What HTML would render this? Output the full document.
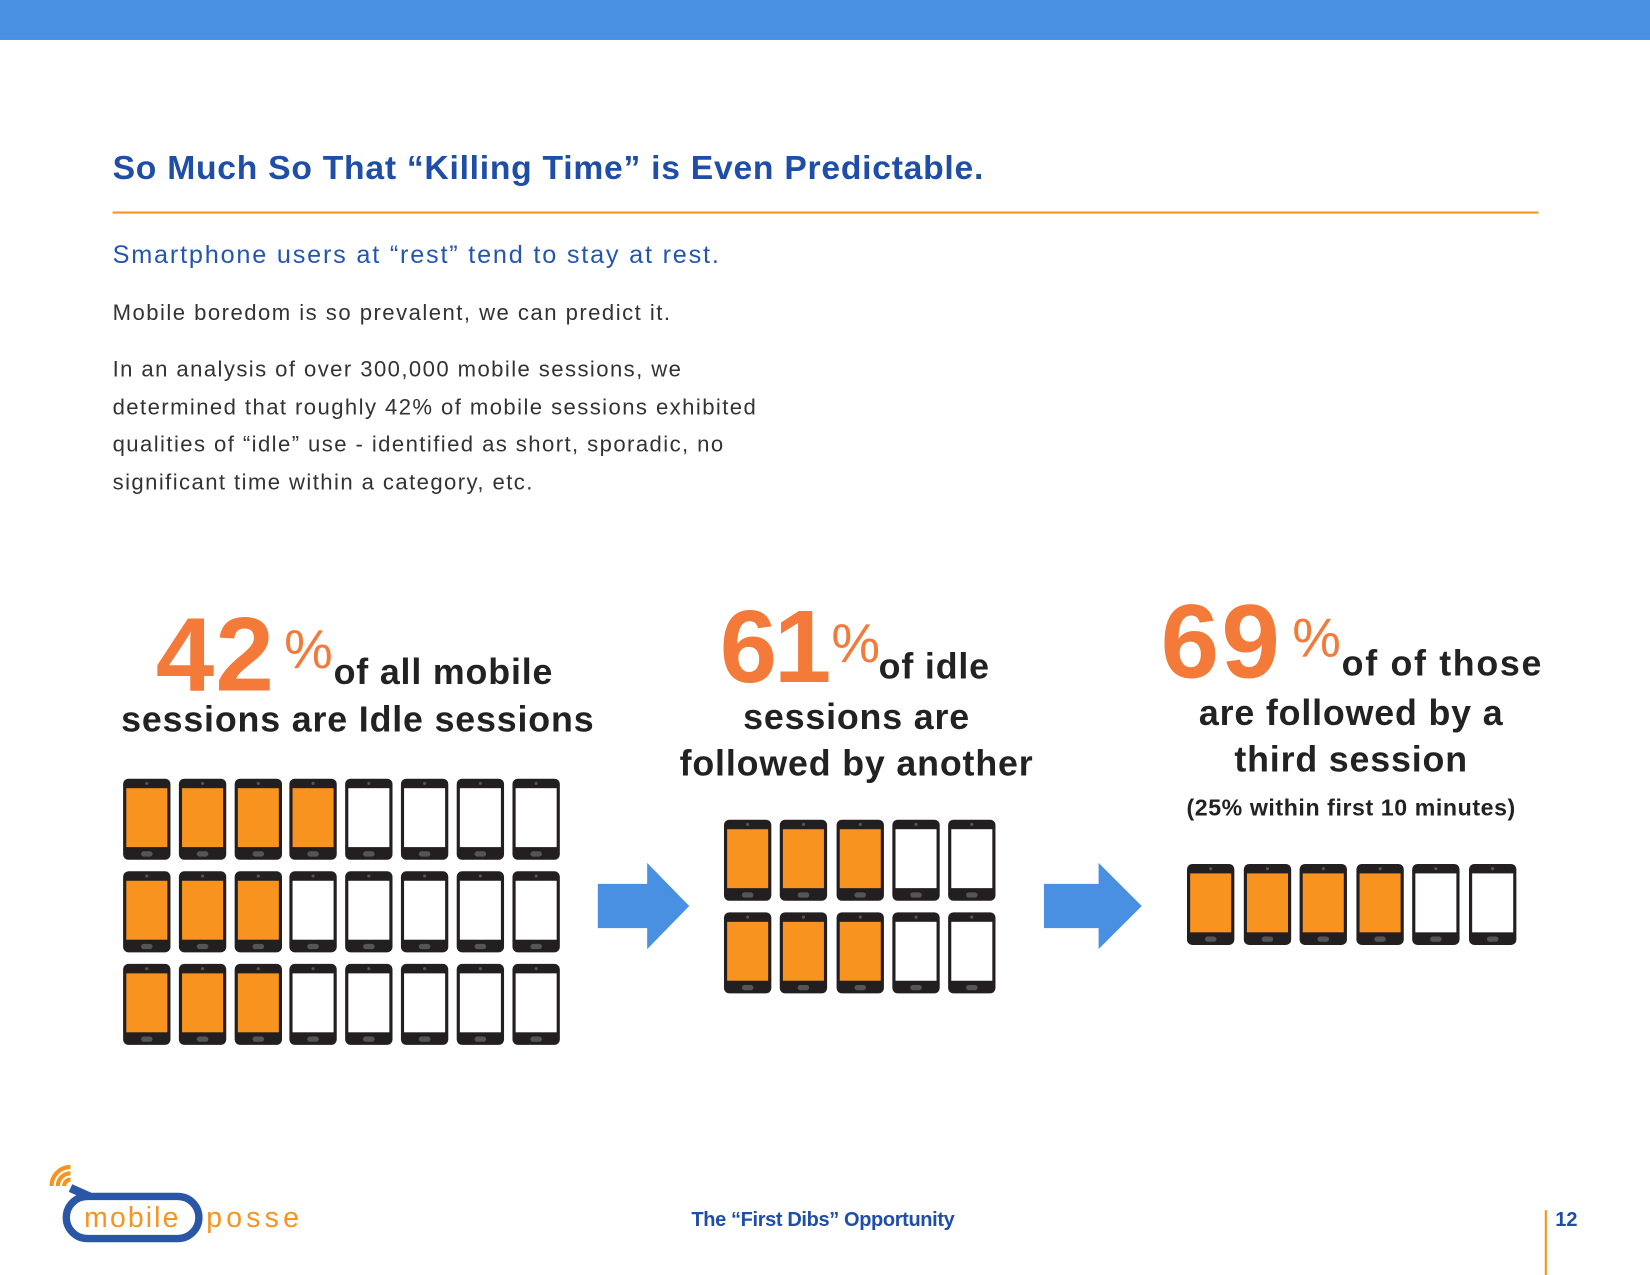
<!DOCTYPE html>
<html><head><meta charset="utf-8"><style>
html,body{margin:0;padding:0;background:#fff;overflow:hidden}
body{width:1650px;height:1275px;position:relative}
#s{position:absolute;left:0;top:0;width:1568px;height:1212px;transform:scale(1.05230);transform-origin:0 0;font-family:"Liberation Sans",sans-serif}
.a{position:absolute;white-space:nowrap}
.big{color:#F47A3A;font-weight:bold}
.pc{font-weight:normal;color:#F47A3A}
.h{font-weight:bold;color:#222;font-size:34px;letter-spacing:0.8px}
.ph{position:absolute;width:45px;height:77px;background:#231F20;border-radius:5px}
.ph .sc{position:absolute;left:3px;right:3px;top:9px;bottom:12px;background:#fff}
.ph .sc.on{background:#F7931E}
.ph .cam{position:absolute;left:21px;top:3px;width:3px;height:3px;border-radius:50%;background:#555}
.ph .btn{position:absolute;left:17px;bottom:3px;width:11px;height:5px;border-radius:3px;background:#555}
</style></head><body>
<div id="s">
<div class="a" style="left:0;top:0;width:1568px;height:38px;background:#4A90E2"></div>
<div class="a" style="left:107px;top:141px;font-size:32px;font-weight:bold;color:#1F4EA8;letter-spacing:0.7px">So Much So That “Killing Time” is Even Predictable.</div>
<div class="a" style="left:107px;top:201px;width:1355px;height:2px;background:#F7941D"></div>
<div class="a" style="left:107px;top:229px;font-size:24px;color:#2456B0;letter-spacing:1.7px">Smartphone users at “rest” tend to stay at rest.</div>
<div class="a" style="left:107px;top:286px;font-size:21px;color:#333;letter-spacing:1.4px">Mobile boredom is so prevalent, we can predict it.</div>
<div class="a" style="left:107px;top:334px;font-size:21px;line-height:35.5px;color:#333;letter-spacing:1.35px">In an analysis of over 300,000 mobile sessions, we<br>determined that roughly 42% of mobile sessions exhibited<br>qualities of “idle” use - identified as short, sporadic, no<br>significant time within a category, etc.</div>

<div class="a big" style="left:148px;top:565px;font-size:100px;letter-spacing:1px">42</div>
<div class="a pc" style="left:270px;top:588px;font-size:52px">%</div>
<div class="a h" style="left:317px;top:620px">of all mobile</div>
<div class="a h" style="left:110px;top:665px;width:460px;text-align:center">sessions are Idle sessions</div>

<div class="a big" style="left:684px;top:558px;font-size:98px;letter-spacing:-3px">61</div>
<div class="a pc" style="left:790px;top:582px;font-size:52px">%</div>
<div class="a h" style="left:835px;top:615px">of idle</div>
<div class="a h" style="left:614px;top:660px;width:400px;text-align:center;line-height:44px">sessions are<br>followed by another</div>

<div class="a big" style="left:1103px;top:553px;font-size:100px;letter-spacing:2px">69</div>
<div class="a pc" style="left:1228px;top:577px;font-size:52px">%</div>
<div class="a h" style="left:1275px;top:612px;letter-spacing:1.6px">of of those</div>
<div class="a h" style="left:1084px;top:656px;width:400px;text-align:center;line-height:44px">are followed by a<br>third session</div>
<div class="a" style="left:1084px;top:755px;width:400px;text-align:center;font-size:22px;font-weight:bold;color:#222;letter-spacing:0.55px">(25% within first 10 minutes)</div>

<svg class="a" style="left:568px;top:820px" width="90" height="84"><polygon points="0,20 47,20 47,0 87,41 47,82 47,62 0,62" fill="#4A90E2"/></svg>
<svg class="a" style="left:992px;top:820px" width="95" height="84"><polygon points="0,20 52,20 52,0 93,41 52,82 52,62 0,62" fill="#4A90E2"/></svg>
<div id="grids"></div>

<div class="a" style="left:45px;top:1105px;width:260px;height:80px">
<svg width="260" height="80" style="position:absolute;left:0;top:0"><path d="M4,22 a18,18 0 0 1 18,-18" stroke="#F7941D" stroke-width="4" fill="none"/><path d="M10,22 a12,12 0 0 1 12,-12" stroke="#F7941D" stroke-width="4" fill="none"/><path d="M16,22 a6,6 0 0 1 6,-6" stroke="#F7941D" stroke-width="4" fill="none"/><path d="M22,24 L40,32" stroke="#2A56A8" stroke-width="8"/><rect x="18" y="32" width="126" height="40" rx="20" fill="none" stroke="#2A56A8" stroke-width="7"/></svg>
<div class="a" style="left:35px;top:37px;font-size:27px;color:#F7941D;letter-spacing:2px">mobile</div>
<div class="a" style="left:151px;top:37px;font-size:27px;color:#F7941D;letter-spacing:4px">posse</div>
</div>
<div class="a" style="left:582px;top:1149px;width:400px;text-align:center;font-size:19px;font-weight:bold;color:#1F4EA8;letter-spacing:-0.35px">The “First Dibs” Opportunity</div>
<div class="a" style="left:1468px;top:1150px;width:2px;height:62px;background:#F7941D"></div>
<div class="a" style="left:1478px;top:1149px;font-size:19px;font-weight:bold;color:#1F4EA8">12</div>
</div>
<script>
// icon-array data: filled phones per row, total per row
const group1Filled=[4,3,3];
const group1Cols=8;
const group2Filled=[3,3];
const group2Cols=5;
const group3Filled=[4];
const group3Cols=6;
const groups=[
 {filled:group1Filled,cols:group1Cols,x:117,y:740,px:52.8,py:88,name:'idle-sessions'},
 {filled:group2Filled,cols:group2Cols,x:688,y:779,px:53.3,py:88,name:'second-sessions'},
 {filled:group3Filled,cols:group3Cols,x:1128,y:821,px:53.6,py:88,name:'third-sessions'}];
const host=document.getElementById('grids');
groups.forEach(g=>{
 g.filled.forEach((f,r)=>{
  for(let c=0;c<g.cols;c++){
   const p=document.createElement('div');p.className='ph';
   
   
   p.style.left=(g.x+c*g.px)+'px';p.style.top=(g.y+r*g.py)+'px';
   p.innerHTML='<div class="sc'+(c<f?' on':'')+'"></div><div class="cam"></div><div class="btn"></div>';
   host.appendChild(p);
  }
 });
});
</script>
</body></html>
